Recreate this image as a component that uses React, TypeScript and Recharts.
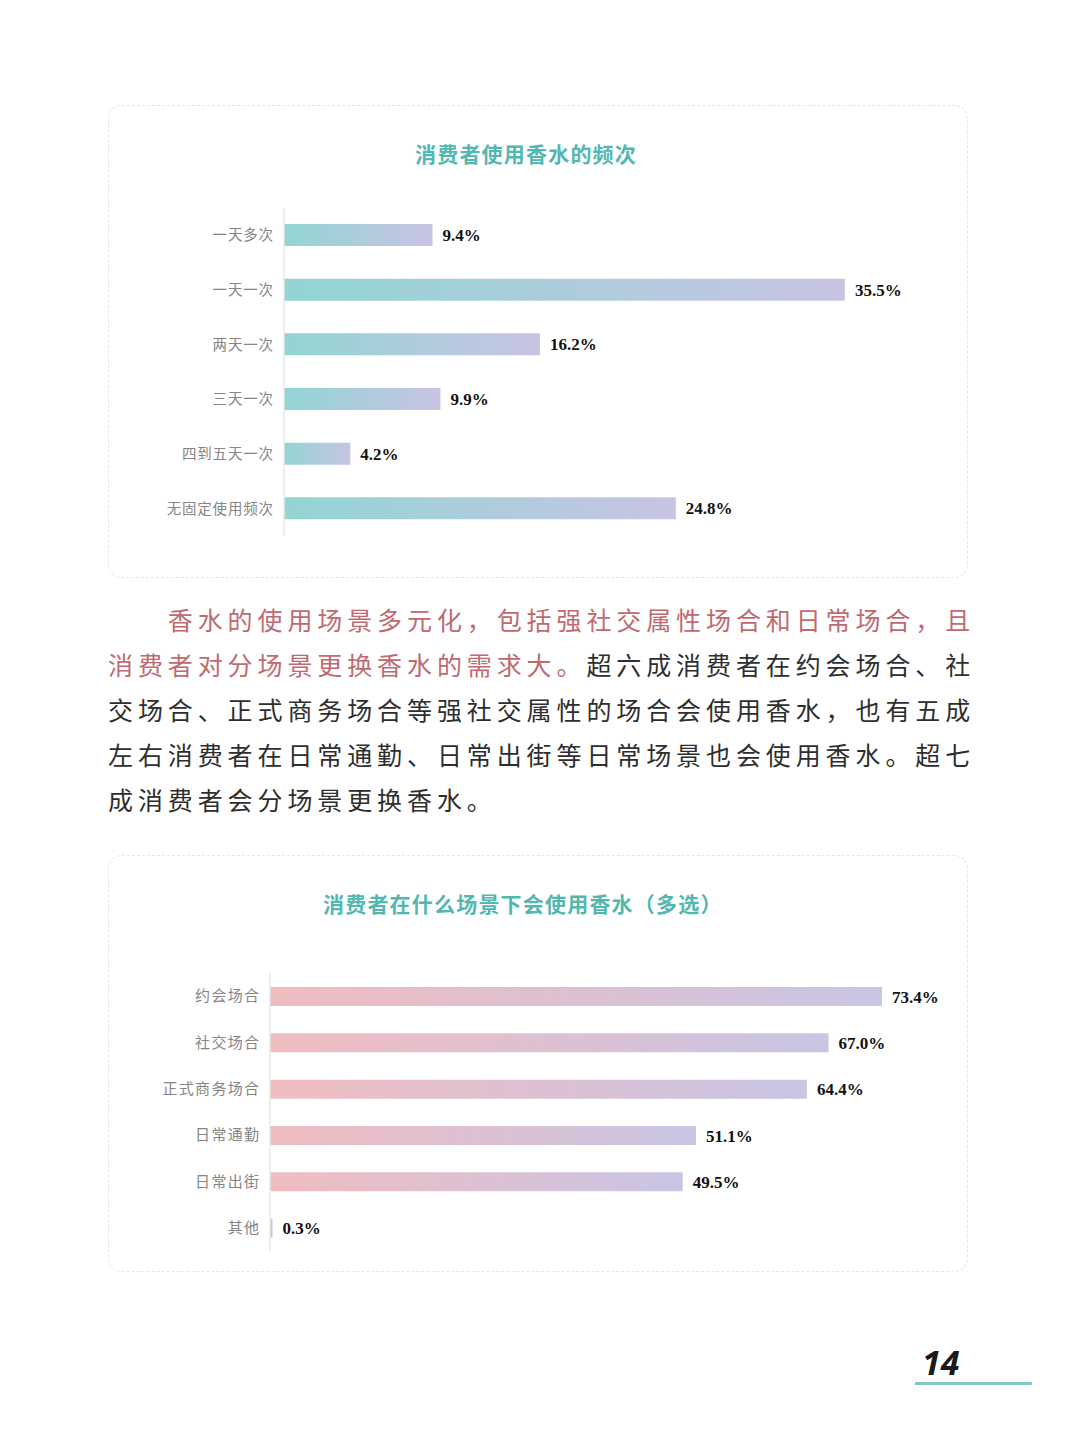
import React from 'react';
import { BarChart, Bar, XAxis, YAxis, LabelList } from 'recharts';

// 数据
const freqCategories = ['一天多次', '一天一次', '两天一次', '三天一次', '四到五天一次', '无固定使用频次'];
const freqValues = [9.4, 35.5, 16.2, 9.9, 4.2, 24.8];

const sceneCategories = ['约会场合', '社交场合', '正式商务场合', '日常通勤', '日常出街', '其他'];
const sceneValues = [73.4, 67.0, 64.4, 51.1, 49.5, 0.3];

const paragraphLines = [
    [{ t: '香水的使用场景多元化，包括强社交属性场合和日常场合，且', red: true }],
    [{ t: '消费者对分场景更换香水的需求大。', red: true }, { t: '超六成消费者在约会场合、社', red: false }],
    [{ t: '交场合、正式商务场合等强社交属性的场合会使用香水，也有五成', red: false }],
    [{ t: '左右消费者在日常通勤、日常出街等日常场景也会使用香水。超七', red: false }],
    [{ t: '成消费者会分场景更换香水。', red: false }],
];

const freqData = freqCategories.map((name, i) => ({ name, value: freqValues[i] }));
const sceneData = sceneCategories.map((name, i) => ({ name, value: sceneValues[i] }));

const CJK = '"Noto Sans CJK SC", "Noto Sans", sans-serif';
const SERIF = '"Liberation Serif", "DejaVu Serif", serif';

// -----------------------
// 卡片
// -----------------------
const Card: React.FC<{ top: number; height: number; title: string; titleLeft: number }> = ({ top, height, title, titleLeft }) => (
    <div style={{
        position: 'absolute', left: 108, top, width: 860, height,
        border: '1.5px dashed #e6e6e6', borderRadius: 14, boxSizing: 'border-box'
    }}>
        <div style={{
            position: 'absolute', top: 32, left: titleLeft - 108, whiteSpace: 'nowrap',
            fontFamily: CJK, fontSize: 21, fontWeight: 700, color: '#52b7b0', letterSpacing: 1.2
        }}>{title}</div>
    </div>
);

interface HBarProps {
    data: { name: string; value: number }[];
    left: number;
    top: number;
    height: number;
    plotWidth: number;
    max: number;
    barSize: number;
    gradId: string;
    from: string;
    to: string;
    tickFont: number;
    tickSpacing: number;
}

const AXIS_W = 140;

const HBar: React.FC<HBarProps> = ({ data, left, top, height, plotWidth, max, barSize, gradId, from, to, tickFont, tickSpacing }) => (
    <div style={{ position: 'absolute', left, top }}>
        <BarChart
            layout="vertical"
            width={AXIS_W + plotWidth + 90}
            height={height}
            data={data}
            margin={{ top: 0, right: 90, left: 0, bottom: 0 }}
            barCategoryGap={0}
        >
            <defs>
                <linearGradient id={gradId} x1="0" y1="0" x2="1" y2="0">
                    <stop offset="0%" stopColor={from} />
                    <stop offset="100%" stopColor={to} />
                </linearGradient>
            </defs>
            <XAxis type="number" domain={[0, max]} hide />
            <YAxis
                dataKey="name"
                type="category"
                width={AXIS_W}
                axisLine={{ stroke: '#e8e8e8', strokeWidth: 1.5 }}
                tickLine={false}
                tickMargin={5 - tickSpacing}
                tick={{ fontSize: tickFont, fill: '#858585', fontFamily: CJK, letterSpacing: tickSpacing }}
            />
            <Bar dataKey="value" barSize={barSize} fill={`url(#${gradId})`} isAnimationActive={false}>
                <LabelList
                    dataKey="value"
                    position="right"
                    offset={10}
                    formatter={(v: number) => `${v.toFixed(1)}%`}
                    style={{ fontSize: 17, fontWeight: 700, fill: '#111', fontFamily: SERIF }}
                />
            </Bar>
        </BarChart>
    </div>
);

export default function App() {
    return (
        <div style={{ position: 'absolute', left: 0, top: 0, width: 1080, height: 1439, background: '#fff', overflow: 'hidden' }}>
            <Card top={105} height={473} title="消费者使用香水的频次" titleLeft={414} />
            <HBar
                data={freqData}
                left={284 - AXIS_W}
                top={208}
                height={328}
                plotWidth={632}
                max={40}
                barSize={22}
                gradId="gradTeal"
                from="#92d5d3"
                to="#c8c4e4"
                tickFont={14.5}
                tickSpacing={0.8}
            />

            {/* 正文 */}
            <div style={{ position: 'absolute', left: 108, top: 597, width: 900, fontFamily: CJK, fontSize: 25, letterSpacing: 4.9, lineHeight: '45px', color: '#333' }}>
                {paragraphLines.map((line, i) => (
                    <div key={i} style={{ whiteSpace: 'nowrap', paddingLeft: i === 0 ? 59.8 : 0 }}>
                        {line.map((seg, j) => (
                            <span key={j} style={{ color: seg.red ? '#c0696e' : '#2e2e2e' }}>{seg.t}</span>
                        ))}
                    </div>
                ))}
            </div>

            <Card top={855} height={417} title="消费者在什么场景下会使用香水（多选）" titleLeft={322} />
            <HBar
                data={sceneData}
                left={270 - AXIS_W}
                top={973}
                height={278}
                plotWidth={667}
                max={80}
                barSize={19}
                gradId="gradPink"
                from="#f0bcc0"
                to="#c9c5e4"
                tickFont={15}
                tickSpacing={1.3}
            />

            {/* 页码 */}
            <div style={{ position: 'absolute', left: 922, top: 1340, fontFamily: '"Open Sans", "DejaVu Sans", sans-serif', fontSize: 34, fontWeight: 700, fontStyle: 'italic', color: '#1a1a1a', lineHeight: '44px' }}>14</div>
            <div style={{ position: 'absolute', left: 915, top: 1382, width: 117, height: 3, background: '#7fc9c4' }} />
        </div>
    );
}
